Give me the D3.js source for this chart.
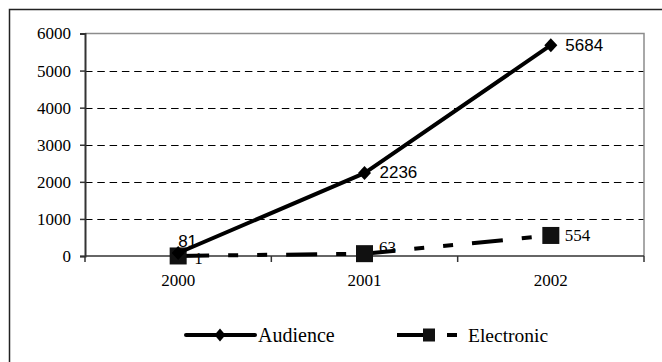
<!DOCTYPE html>
<html>
<head>
<meta charset="utf-8">
<script src="https://cdn.jsdelivr.net/npm/d3@7"></script>
<style>
  html, body { margin: 0; padding: 0; background: #fff; }
  svg { display: block; }
</style>
</head>
<body>
<svg id="chart" width="662" height="362"></svg>
<script>
// Years on the category axis
const years = ["2000", "2001", "2002"];
// Series values
const audience = [81, 2236, 5684];
const electronic = [1, 63, 554];
// Value-axis ticks
const yTicks = [0, 1000, 2000, 3000, 4000, 5000, 6000];
// Legend entries
const seriesNames = ["Audience", "Electronic"];

// Nudges for value labels so they clear the markers and lines
const audienceLabelShift = [[0, -12], [15, -1], [14.5, 0]];
const electronicLabelShift = [[16, 2], [14.5, -6.5], [14, 0]];

const SERIF = "'Liberation Serif', 'Times New Roman', Tinos, 'DejaVu Serif', 'Noto Serif', serif";
const SANS = "'Liberation Sans', Arial, Arimo, Helvetica, sans-serif";
const TICK_SIZE = "17px";

const svg = d3.select("#chart");
const W = 662, H = 362;
const plot = { left: 85, right: 644, top: 33.5, bottom: 256 };

const x = d3.scaleBand().domain(years).range([plot.left, plot.right]).padding(0);
const y = d3.scaleLinear().domain([0, 6000]).range([plot.bottom, plot.top]);
const cx = d => x(d) + x.bandwidth() / 2;

// Outer frame (left and top edges)
svg.append("path")
  .attr("d", `M9.5,${H} V9.5 H${W}`)
  .attr("fill", "none").attr("stroke", "#222").attr("stroke-width", 1.5);

// Dashed gridlines
svg.append("g").selectAll("line")
  .data(yTicks.filter(t => t > 0 && t < 6000))
  .join("line")
  .attr("x1", plot.left).attr("x2", plot.right)
  .attr("y1", d => Math.round(y(d)) + 0.5).attr("y2", d => Math.round(y(d)) + 0.5)
  .attr("stroke", "#000").attr("stroke-width", 1)
  .attr("stroke-dasharray", "7.5,4.8");

// Plot-area border (top and right)
svg.append("path")
  .attr("d", `M${plot.left},${plot.top} H${plot.right} V${plot.bottom}`)
  .attr("fill", "none").attr("stroke", "#8c8c8c").attr("stroke-width", 1.5);

// Value axis
const yAxis = d3.axisLeft(y).tickValues(yTicks).tickSize(5).tickPadding(9).tickFormat(d3.format("d"));
const gy = svg.append("g").attr("transform", `translate(${plot.left},0)`).call(yAxis);
gy.attr("font-family", null).attr("font-size", null);
gy.select(".domain").attr("stroke", "#333").attr("stroke-width", 2);
gy.selectAll(".tick line").attr("stroke", "#333").attr("stroke-width", 1.5);
gy.selectAll(".tick text")
  .style("font-family", SERIF).style("font-size", TICK_SIZE).attr("fill", "#000");

// Category axis with ticks on band boundaries
const gx = svg.append("g").attr("transform", `translate(0,${plot.bottom})`);
gx.append("line")
  .attr("x1", plot.left).attr("x2", plot.right).attr("y1", 0).attr("y2", 0)
  .attr("stroke", "#333").attr("stroke-width", 1.5);
const edges = years.map(d => x(d)).concat([plot.right]);
gx.selectAll("line.tk").data(edges).join("line").attr("class", "tk")
  .attr("x1", d => d).attr("x2", d => d).attr("y1", 0).attr("y2", 6)
  .attr("stroke", "#333").attr("stroke-width", 1.5);
gx.selectAll("text").data(years).join("text")
  .attr("x", d => cx(d)).attr("y", 30)
  .attr("text-anchor", "middle")
  .style("font-family", SERIF).style("font-size", TICK_SIZE).attr("fill", "#000")
  .text(d => d);

// Electronic series: dash pattern restarts on each segment
const elecDash = "31,19,10,19,10,19";
const eg = svg.append("g");
d3.pairs(years.map((yr, i) => [cx(yr), y(electronic[i])])).forEach(([a, b]) => {
  eg.append("path")
    .attr("d", d3.line()([a, b]))
    .attr("fill", "none").attr("stroke", "#000").attr("stroke-width", 4)
    .attr("stroke-dasharray", elecDash);
});
eg.selectAll("rect").data(electronic).join("rect")
  .attr("x", (d, i) => cx(years[i]) - 8.5).attr("y", d => y(d) - 8.5)
  .attr("width", 17).attr("height", 17).attr("fill", "#111");

// Audience series
const ag = svg.append("g");
ag.append("path")
  .datum(audience)
  .attr("d", d3.line().x((d, i) => cx(years[i])).y(d => y(d)))
  .attr("fill", "none").attr("stroke", "#000").attr("stroke-width", 4)
  .attr("stroke-linejoin", "round");
const diamond = (px, py, w, h) => `M${px},${py - h / 2} L${px + w / 2},${py} L${px},${py + h / 2} L${px - w / 2},${py} Z`;
ag.selectAll("path.mk").data(audience).join("path").attr("class", "mk")
  .attr("d", (d, i) => diamond(cx(years[i]), y(d), 13, 14))
  .attr("fill", "#000");

// Value labels
svg.append("g").selectAll("text").data(electronic).join("text")
  .attr("x", (d, i) => cx(years[i]) + electronicLabelShift[i][0])
  .attr("y", (d, i) => y(d) + electronicLabelShift[i][1])
  .attr("dy", "0.35em")
  .style("font-family", SERIF).style("font-size", TICK_SIZE).attr("fill", "#000")
  .text(d => d);
svg.append("g").selectAll("text").data(audience).join("text")
  .attr("x", (d, i) => cx(years[i]) + audienceLabelShift[i][0])
  .attr("y", (d, i) => y(d) + audienceLabelShift[i][1])
  .attr("dy", "0.35em")
  .style("font-family", SANS).style("font-size", "17px").attr("fill", "#000")
  .text(d => d);

// Legend
const legY = 335;
const lg = svg.append("g");
// Audience entry
lg.append("line").attr("x1", 186).attr("x2", 255).attr("y1", legY).attr("y2", legY)
  .attr("stroke", "#000").attr("stroke-width", 4).attr("stroke-linecap", "round");
lg.append("path").attr("d", diamond(220, legY, 11, 13)).attr("fill", "#000");
lg.append("text").attr("x", 258).attr("y", legY + 7)
  .style("font-family", SERIF).style("font-size", "20px").attr("fill", "#000")
  .text(seriesNames[0]);
// Electronic entry
lg.append("line").attr("x1", 397).attr("x2", 459).attr("y1", legY).attr("y2", legY)
  .attr("stroke", "#000").attr("stroke-width", 4).attr("stroke-dasharray", elecDash);
lg.append("rect").attr("x", 423).attr("y", legY - 6.5).attr("width", 12).attr("height", 13).attr("fill", "#111");
lg.append("text").attr("x", 468).attr("y", legY + 7)
  .style("font-family", SERIF).style("font-size", "19.5px").attr("fill", "#000")
  .text(seriesNames[1]);
</script>
</body>
</html>
